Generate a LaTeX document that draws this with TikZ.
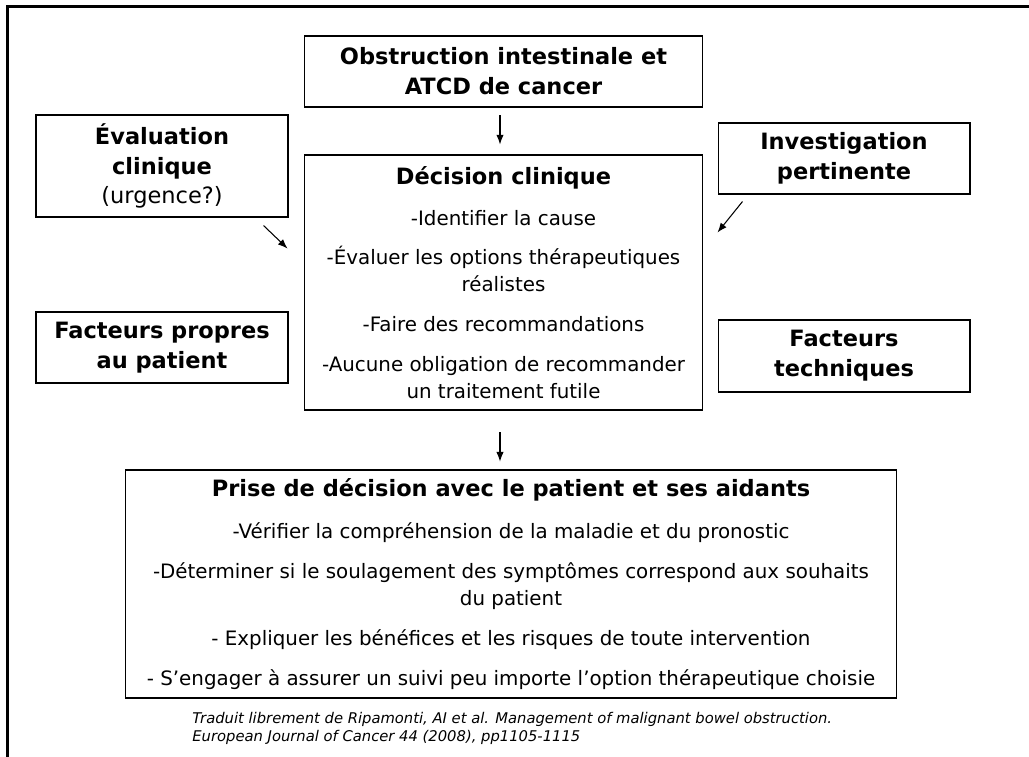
\documentclass[tikz,border=0pt]{standalone}
\usepackage{fontspec}
\setmainfont{DejaVu Sans}
\usetikzlibrary{calc,positioning,arrows.meta}

\begin{document}
\begin{tikzpicture}[x=0.02cm,y=-0.02cm]
  \tikzset{ bx/.style={draw,line width=0.6pt,align=center,inner sep=0pt,
              font=\fontsize{11.3}{15.3}\selectfont},
            hd/.style={bx,font=\fontsize{12.8}{17}\selectfont\bfseries},
            ar/.style={-{Latex[length=5.5pt,width=4.2pt]},line width=0.6pt},
  }
  \useasboundingbox (0,0) rectangle (1029,757);
  \draw[line width=1.6pt] (7.5,757) -- (7.5,6.5) -- (1029,6.5);

  \node[hd,minimum width=7.98cm,minimum height=1.42cm] (O) at (503.5,71.5)
    {Obstruction intestinale et\\ATCD de cancer};
  \node[bx,minimum width=7.98cm,minimum height=5.1cm] (D) at (503.5,282.5)
    {{\fontsize{12.8}{15.3}\selectfont\bfseries Décision clinique}\\[7.9pt]
     -Identifier la cause\\[7.4pt]
     -Évaluer les options thérapeutiques\\réalistes\\[7.4pt]
     -Faire des recommandations\\[7.4pt]
     -Aucune obligation de recommander\\un traitement futile};
  \node[bx,font=\fontsize{12.8}{17}\selectfont,minimum width=5.04cm,minimum height=2.04cm] (E) at (162,166)
    {\textbf{Évaluation}\\\textbf{clinique}\\(urgence?)};
  \node[hd,minimum width=5.04cm,minimum height=1.42cm] (I) at (844,158.5)
    {Investigation\\pertinente};
  \node[hd,minimum width=5.04cm,minimum height=1.42cm] (FP) at (162,347.5)
    {Facteurs propres\\au patient};
  \node[hd,minimum width=5.04cm,minimum height=1.44cm] (FT) at (844,356)
    {Facteurs\\techniques};
  \node[bx,minimum width=15.44cm,minimum height=4.56cm] (P) at (511,584)
    {{\fontsize{12.8}{15.3}\selectfont\bfseries Prise de décision avec le patient et ses aidants}\\[8.5pt]
     -Vérifier la compréhension de la maladie et du pronostic\\[7.4pt]
     -Déterminer si le soulagement des symptômes correspond aux souhaits\\du patient\\[7.4pt]
     - Expliquer les bénéfices et les risques de toute intervention\\[7.4pt]
     - S’engager à assurer un suivi peu importe l’option thérapeutique choisie};
  \node[align=left,anchor=north west,inner sep=0pt,font=\fontsize{8.4}{10.2}\selectfont\itshape] (src) at (192,712)
    {Traduit librement de Ripamonti, AI et al. Management of malignant bowel obstruction.\\
     European Journal of Cancer 44 (2008), pp1105-1115};

  % the arrows between the boxes
  \coordinate (e1) at ($(E.south east)+(-25,8)$);
  \coordinate (e2) at ($(E.south east)+(-1,31)$);
  \coordinate (i1) at ($(I.south west)+(25,7)$);
  \coordinate (i2) at ($(I.south west)+(0,38)$);
  \draw[ar,shorten <=4.5pt,shorten >=5.7pt] (O.south -| 500,0) -- (D.north -| 500,0);
  \draw[ar,shorten <=12.5pt,shorten >=4.5pt] (D.south -| 500,0) -- (P.north -| 500,0);
  \draw[ar] (e1) -- (e2);
  \draw[ar] (i1) -- (i2);
\end{tikzpicture}
\end{document}
